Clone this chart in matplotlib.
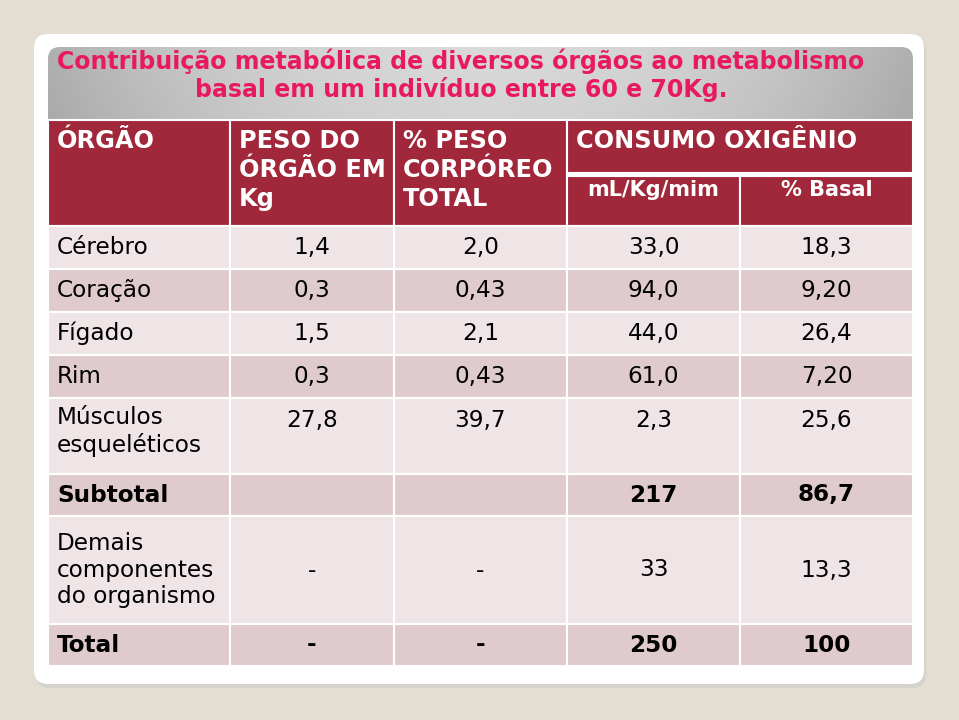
import matplotlib.pyplot as plt
from matplotlib.patches import Rectangle, FancyBboxPatch
import numpy as np

# dados da tabela
title_lines = ["Contribuição metabólica de diversos órgãos ao metabolismo",
               "basal em um indivíduo entre 60 e 70Kg."]
head_cols = ["ÓRGÃO", "PESO DO\nÓRGÃO EM\nKg", "% PESO\nCORPÓREO\nTOTAL"]
head_group = "CONSUMO OXIGÊNIO"
head_sub = ["mL/Kg/mim", "% Basal"]

orgaos = ["Cérebro", "Coração", "Fígado", "Rim", "Músculos\nesqueléticos",
          "Subtotal", "Demais\ncomponentes\ndo organismo", "Total"]
peso_kg = ["1,4", "0,3", "1,5", "0,3", "27,8", "", "-", "-"]
peso_pct = ["2,0", "0,43", "2,1", "0,43", "39,7", "", "-", "-"]
consumo_ml = ["33,0", "94,0", "44,0", "61,0", "2,3", "217", "33", "250"]
consumo_basal = ["18,3", "9,20", "26,4", "7,20", "25,6", "86,7", "13,3", "100"]
linhas_negrito = ["Subtotal", "Total"]

# layout (pixels)
col_x = [48, 230, 394, 567, 740, 913]
row_y = [226, 269, 312, 355, 398, 474, 516, 624, 666]
head_top, head_mid = 120, 173

RED = "#a1283a"
LIGHT = "#efe5e6"
DARK = "#dfcbcd"
PINK = "#e8195f"

fig = plt.figure(figsize=(9.59, 7.2), dpi=100)
fig.patch.set_facecolor("#e4ddd2")
ax = fig.add_axes([0, 0, 1, 1])
ax.set_xlim(0, 959)
ax.set_ylim(720, 0)
ax.axis("off")

# painel branco com sombra
ax.add_patch(FancyBboxPatch((36, 38), 890, 650, boxstyle="round,pad=0,rounding_size=14",
                            facecolor="#d6d3cf", edgecolor="none"))
ax.add_patch(FancyBboxPatch((34, 34), 890, 650, boxstyle="round,pad=0,rounding_size=14",
                            facecolor="white", edgecolor="none"))

# faixa cinza do título (degradê)
clip = FancyBboxPatch((48, 47), 865, 120, boxstyle="round,pad=0,rounding_size=12",
                      facecolor="none", edgecolor="none")
ax.add_patch(clip)
gx = np.linspace(-1, 1, 200)
gy = np.linspace(0, 1, 60)[:, None]
grad = 0.85 - 0.16 * gx[None, :] ** 2 - 0.04 * gy
im = ax.imshow(grad, cmap="gray", vmin=0, vmax=1, extent=[48, 913, 167, 47],
               aspect="auto", interpolation="bicubic", zorder=1)
im.set_clip_path(clip)

for i, line in enumerate(title_lines):
    ax.text(461, 61 + 28 * i, line, color=PINK, fontsize=17, fontweight="bold",
            ha="center", va="center", zorder=5,
            family=["DejaVu Sans Condensed", "Liberation Sans Narrow", "DejaVu Sans"])

fs = 16.7
hfs = 17.3
# cabeçalho
for j, txt in enumerate(head_cols):
    ax.add_patch(Rectangle((col_x[j], head_top), col_x[j + 1] - col_x[j], row_y[0] - head_top,
                           facecolor=RED, edgecolor="white", lw=1.5, zorder=2))
    ax.text(col_x[j] + 9, 129, txt, color="white", fontsize=hfs, fontweight="bold",
            ha="left", va="top", linespacing=1.27, zorder=5)
ax.add_patch(Rectangle((col_x[3], head_top), col_x[5] - col_x[3], head_mid - head_top,
                       facecolor=RED, edgecolor="white", lw=1.5, zorder=2))
ax.text(col_x[3] + 9, 129, head_group, color="white", fontsize=hfs, fontweight="bold",
        ha="left", va="top", zorder=5)
for k, txt in enumerate(head_sub):
    x0, x1 = col_x[3 + k], col_x[4 + k]
    ax.add_patch(Rectangle((x0, head_mid + 3), x1 - x0, row_y[0] - head_mid - 3,
                           facecolor=RED, edgecolor="white", lw=1.5, zorder=2))
    ax.text((x0 + x1) / 2, 190, txt, color="white", fontsize=15, fontweight="bold",
            ha="center", va="center", zorder=5)

# corpo da tabela
for i, nome in enumerate(orgaos):
    y0, y1 = row_y[i], row_y[i + 1]
    cor = LIGHT if i % 2 == 0 else DARK
    peso = "bold" if nome in linhas_negrito else "normal"
    for j in range(5):
        ax.add_patch(Rectangle((col_x[j], y0), col_x[j + 1] - col_x[j], y1 - y0,
                               facecolor=cor, edgecolor="white", lw=1.5, zorder=2))
    no_topo = nome.count("\n") == 1
    yv = y0 + 22 if no_topo else (y0 + y1) / 2
    ax.text(col_x[0] + 9, y0 + 8 if no_topo else (y0 + y1) / 2,
            nome, fontsize=fs, fontweight=peso, ha="left",
            va="top" if no_topo else "center", linespacing=1.22, zorder=5)
    for j, col in enumerate([peso_kg, peso_pct, consumo_ml, consumo_basal]):
        cx = (col_x[j + 1] + col_x[j + 2]) / 2
        ax.text(cx, yv, col[i], fontsize=fs, fontweight=peso, ha="center", va="center",
                zorder=5)

fig.savefig("out.png", dpi=100, facecolor=fig.get_facecolor())
